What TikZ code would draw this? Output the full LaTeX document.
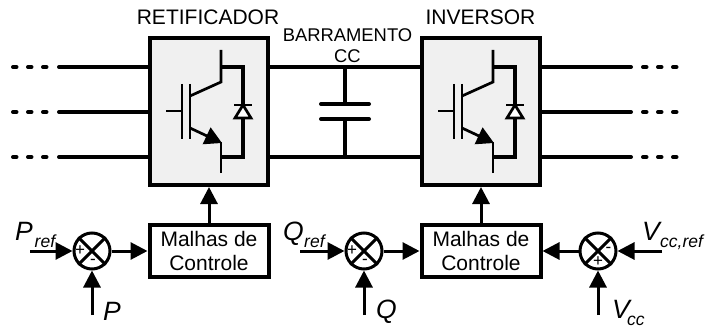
\documentclass[tikz,border=0pt]{standalone}
\usepackage{fontspec}
\setmainfont{Liberation Sans}
\usetikzlibrary{arrows.meta}

\newcommand{\igbt}[1]{
  \draw[sw] (#1,50) -- (#1,82) -- (#1-31,96);
  \draw[sw] (#1,173) -- (#1,142);
  \draw[sw] (#1-31,84) -- (#1-31,139);
  \draw[sw] (#1-39,84) -- (#1-39,139);
  \draw[sw] (#1-55,111) -- (#1-39,111);
  \draw[sw,-{Triangle[length=17,width=18]}] (#1-31,128) -- (#1+1,143);
  \draw[sw,line width=3.2] (#1,67) -- (#1+22,67) -- (#1+22,157) -- (#1,157);
  \draw[sw,fill=white] (#1+22,105) -- (#1+14,118) -- (#1+30,118) -- cycle;
  \draw[sw] (#1+13,105) -- (#1+31,105);
}

\tikzset{
  conv/.style = {draw, line width=4, fill=black!6, minimum width=118, minimum height=147},
  ctrl/.style = {draw, line width=4, fill=white, minimum width=119, minimum height=52, align=center, font=\fontsize{21}{23.5}\selectfont},
  sumj/.style = {draw, circle, line width=3, fill=white, minimum size=36, inner sep=0},
  title/.style = {inner sep=0, font=\fontsize{21}{24}\selectfont},
  lbl/.style = {inner sep=0, anchor=base west, font=\fontsize{26.5}{26}\selectfont\itshape},
  sub/.style = {inner sep=0, anchor=base west, font=\fontsize{17.5}{18}\selectfont\itshape},
  sgn/.style = {inner sep=0, font=\fontsize{17}{17}\selectfont},
  bus/.style = {line width=4},
  dots/.style = {line width=4, line cap=round, dash pattern=on 3.5 off 11.5},
  sw/.style = {line width=2.7},
  sig/.style = {line width=3, -{Triangle[length=17,width=17]}}
}

\begin{document}
\begin{tikzpicture}[x=1pt, y=-1pt]
  \useasboundingbox (0,0) rectangle (705,329);

  \node[conv] (ret) at (209,111.5) {};
  \node[conv] (inv) at (481,111.5) {};
  \node[ctrl] (mc1) at (209,251) {Malhas de\\Controle};
  \node[ctrl] (mc2) at (481,251) {Malhas de\\Controle};

  \node[title] (tret) at (208,17) {RETIFICADOR};
  \node[title] (tinv) at (480.5,17) {INVERSOR};
  \node[inner sep=0, align=center, font=\fontsize{18.4}{21}\selectfont] (tbus) at (347.5,46) {BARRAMENTO\\CC};

  % fases
  \foreach \y/\n in {67/a, 112/b, 157/c} {
    \coordinate (la\n) at (59,\y);
    \coordinate (lb\n) at (13,\y);
    \coordinate (ra\n) at (631,\y);
    \coordinate (rb\n) at (678,\y);
    \draw[bus, line cap=round] (la\n) -- (ret.west |- la\n);
    \draw[bus, line cap=round] (inv.east |- ra\n) -- (ra\n);
    \draw[dots] (lb\n) -- (48,\y);
    \draw[dots] (643,\y) -- (rb\n);
  }

  % barramento
  \coordinate (ct) at (345,67);
  \coordinate (cb) at (345,157);
  \coordinate (cp1) at (345,104);
  \coordinate (cp2) at (345,119);
  \draw[bus] (ret.east |- ct) -- (inv.west |- ct);
  \draw[bus] (ret.east |- cb) -- (inv.west |- cb);
  \draw[bus] (ct) -- (cp1);
  \draw[bus] (cb) -- (cp2);
  \draw[bus, line cap=round] (321,104) -- (369,104);
  \draw[bus, line cap=round] (321,119) -- (369,119);

  \igbt{221}
  \igbt{493}

  % malhas
  \node[sumj] (s1) at (92,251) {};
  \node[sumj] (s2) at (364,251) {};
  \node[sumj] (s3) at (598,251) {};
  \foreach \s in {s1, s2, s3} {
    \draw[line width=3] (\s.45) -- (\s.225);
    \draw[line width=3] (\s.135) -- (\s.-45);
  }

  \node[sgn] (p1) at (80,251) {+};
  \node[sgn] (m1) at (93,261.5) {-};
  \node[sgn] (p2) at (352,251) {+};
  \node[sgn] (m2) at (365,261.5) {-};
  \node[sgn] (p3) at (598,262) {+};
  \node[sgn] (m3) at (608.5,250) {-};

  \coordinate (i1) at (30,251);
  \coordinate (f1) at (92,315);
  \coordinate (i2) at (300,251);
  \coordinate (f2) at (364,315);
  \coordinate (i3) at (662,251);
  \coordinate (f3) at (598,315);

  \draw[sig] (i1) -- (s1);
  \draw[sig] (f1) -- (s1);
  \draw[sig] (s1) -- (mc1);
  \draw[sig] (i2) -- (s2);
  \draw[sig] (f2) -- (s2);
  \draw[sig] (s2) -- (mc2);
  \draw[sig] (i3) -- (s3);
  \draw[sig] (f3) -- (s3);
  \draw[sig] (s3) -- (mc2);
  \draw[sig] (mc1) -- (ret);
  \draw[sig] (mc2) -- (inv);

  \node[lbl] (lp) at (15,240) {P};
  \node[sub] (lpr) at (34.5,247) {ref};
  \node[lbl] (lpp) at (103,320) {P};
  \node[lbl] (lq) at (283,240) {Q};
  \node[sub] (lqr) at (304,247) {ref};
  \node[lbl] (lqq) at (376,318) {Q};
  \node[lbl] (lv) at (642,240) {V};
  \node[sub] (lvr) at (660,247) {cc,ref};
  \node[lbl] (lvv) at (612,318) {V};
  \node[sub] (lvc) at (627,325) {cc};
\end{tikzpicture}
\end{document}
